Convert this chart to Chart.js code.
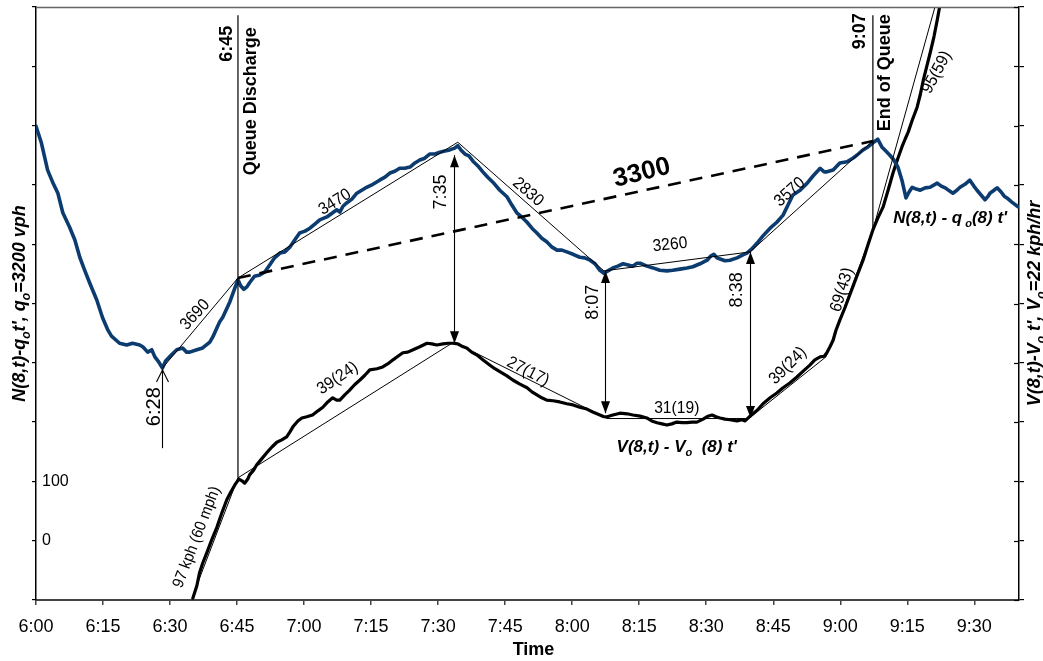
<!DOCTYPE html>
<html><head><meta charset="utf-8">
<script src="https://cdn.jsdelivr.net/npm/chart.js@4.4.1/dist/chart.umd.min.js"></script>
<style>html,body{margin:0;padding:0;background:#fff;}canvas{display:block;}</style>
</head><body>
<canvas id="c" width="1043" height="661"></canvas>
<script>
// ---- data (x = minutes after 6:00) ----
const timeTicks = [0,15,30,45,60,75,90,105,120,135,150,165,180,195,210];
const timeLabels = ['6:00','6:15','6:30','6:45','7:00','7:15','7:30','7:45','8:00','8:15','8:30','8:45','9:00','9:15','9:30'];
const yTickValues = [-100,0,100,200,300,400,500,600,700,800,900];
const yLabeledTicks = [0,100];

const blueT = [0,1.2,2.6,3.7,4.9,6.0,7.5,8.7,9.8,10.9,12.0,13.6,14.9,16.1,16.9,18.7,20.3,21.6,23.2,23.9,25.0,25.9,26.6,27.5,28.3,29.0,29.9,30.8,31.5,32.8,33.7,34.4,36.0,37.3,38.9,39.6,40.5,41.1,41.8,43.4,44.5,45.2,45.8,46.5,47.2,47.8,48.9,50.1,51.2,52.3,53.4,54.6,55.7,56.8,57.9,59.0,60.2,61.3,62.4,63.5,65.1,66.4,67.3,68.0,68.7,69.6,70.7,71.8,72.9,74.0,75.4,76.9,78.1,79.2,80.3,81.4,82.5,83.7,84.8,85.9,87.0,88.1,89.3,90.4,91.5,92.6,93.7,94.4,95.1,96.0,96.9,97.8,98.9,100.0,101.1,102.2,103.8,105.4,106.5,107.6,108.7,109.9,111.0,112.1,113.2,114.3,115.5,116.6,117.7,118.8,120.2,121.7,122.8,124.0,125.1,126.2,127.1,128.0,129.1,130.2,131.4,132.5,133.6,134.5,135.2,136.7,138.1,139.6,141.2,142.5,144.1,145.7,147.0,148.6,150.2,151.0,151.7,152.4,153.1,154.2,155.3,156.9,158.2,159.1,160.2,161.4,162.7,164.3,165.8,167.2,168.3,169.4,171.0,172.6,173.9,175.5,176.4,177.0,178.4,179.9,181.5,182.8,183.7,185.1,186.2,187.3,188.4,189.3,190.2,191.1,192.0,192.9,193.8,194.7,195.4,196.1,197.0,197.9,199.0,200.1,201.7,202.6,203.5,204.4,205.2,206.1,206.8,207.9,209.0,209.9,210.6,211.5,212.4,213.1,213.5,214.4,215.1,216.0,216.7,217.3,218.4,219.8];
const blueV = [699,671,625,605,586,553,529,507,478,456,435,406,376,355,345,333,330,333,330,327,318,322,310,301,291,303,310,317,322,325,318,318,322,325,335,344,359,369,377,403,426,440,430,424,428,435,446,448,453,465,477,485,487,495,507,519,522,527,534,541,546,553,558,554,564,570,576,586,591,596,601,608,613,620,623,628,628,630,637,642,645,652,652,655,657,659,662,666,659,652,649,640,632,622,613,605,591,580,566,553,546,537,527,519,510,504,495,490,490,487,483,478,477,473,467,456,451,455,460,463,467,465,463,468,468,463,460,456,455,456,458,460,462,467,473,480,483,477,475,472,473,477,482,485,492,502,514,527,537,549,566,583,591,603,615,628,622,622,625,637,639,645,650,659,664,671,677,664,657,650,642,630,608,578,588,596,593,591,595,596,603,598,595,590,586,591,596,601,608,598,591,583,575,581,586,591,595,588,581,578,571,563];

const blackT = [35.1,36.0,36.6,37.3,38.2,39.3,40.5,41.6,42.7,43.6,44.5,45.4,46.1,46.7,47.4,47.8,48.7,49.4,50.5,51.6,52.8,53.9,55.0,56.1,56.8,57.5,58.6,59.5,60.6,61.9,63.1,64.2,65.3,66.4,67.3,68.0,69.1,70.2,71.3,72.5,73.6,74.7,76.3,77.6,78.7,79.9,81.0,82.1,83.2,84.4,85.9,87.5,88.6,89.7,91.1,92.2,93.3,94.4,95.3,96.4,97.5,98.7,100.0,101.6,102.7,103.8,105.4,106.7,108.3,109.9,111.0,112.1,113.2,114.3,115.7,117.2,118.8,120.2,121.7,123.3,124.6,126.2,127.1,127.8,129.1,130.7,132.3,133.6,135.2,136.7,137.8,139.0,140.1,141.2,142.3,143.4,144.6,145.7,146.8,147.9,149.3,150.4,151.3,152.2,153.1,154.2,155.3,156.9,158.0,158.7,159.8,161.4,162.7,164.3,165.8,167.2,168.7,170.3,171.7,173.2,174.3,175.5,176.4,177.0,177.7,178.4,179.0,179.9,181.0,182.8,183.9,185.1,186.2,187.3,188.4,189.6,190.7,191.8,192.9,193.8,194.5,195.2,196.1,197.2,197.9,198.6,199.4,200.1,201.0,201.7,202.3];
const blackV = [-97,-76,-54,-38,-21,1,23,47,69,82,94,104,101,97,104,111,119,128,138,148,158,166,170,175,183,192,202,207,209,212,219,225,234,241,237,237,246,254,263,271,279,288,290,293,298,305,311,317,318,322,327,333,332,330,332,333,333,332,328,325,318,313,305,296,290,285,278,271,264,258,251,246,241,237,236,234,231,229,225,222,217,212,209,209,212,215,214,212,210,207,202,199,197,195,197,200,199,199,200,200,205,210,212,209,207,205,204,202,204,202,210,220,231,241,249,258,266,276,286,296,305,310,311,317,327,338,354,372,392,428,450,473,499,524,544,563,591,620,645,664,677,689,709,731,752,777,801,822,851,878,903];

// fitted straight segments
const flowFitT = [28.3,45.2,94.4,127.1,159.8,187.3];
const flowFitV = [291,443,672,455,487,674];
const speedFitT = [35.5,45.2,93.5,127.8,159.5,176.8,187.3,201.3];
const speedFitV = [-85,106,335,206,206,310,524,903];
const dash3300T = [45.2,187.3];
const dash3300V = [443,674];
const line645T = [45.2,45.2];   const line645V = [886,106];
const line907T = [187.3,187.3]; const line907V = [886,524];

// time arrows
const arrowT    = [28.3, 93.5, 127.3, 159.9];
const arrowFrom = [156, 650, 455, 487];
const arrowTo   = [288, 333, 215, 207];

// ---- annotations (text, t, value, angle°, kind) ----
const notes = [
  ['6:45', 42.7, 838, -90, 'head'],
  ['Queue Discharge', 48.2, 741, -90, 'head'],
  ['9:07', 184.4, 859, -90, 'head'],
  ['End of Queue', 190.0, 789, -90, 'head'],
  ['3690', 35.6, 381, -47, 'fit'],
  ['3470', 66.9, 571, -32, 'fit'],
  ['2830', 110.1, 588, 41, 'fit'],
  ['3300', 135.6, 620, -14, 'big'],
  ['3260', 141.9, 499, -6, 'fit'],
  ['3570', 168.7, 588, -42, 'fit'],
  ['97 kph (60 mph)', 36.0, 6, -69, 'fitS'],
  ['39(24)', 67.5, 274, -34, 'fit'],
  ['27(17)', 110.1, 285, 27, 'fit'],
  ['31(19)', 143.4, 224, 0, 'fit'],
  ['39(24)', 168.3, 295, -45, 'fit'],
  ['69(43)', 180.4, 423, -73, 'fit'],
  ['95(59)', 201.6, 790, -62, 'fit'],
  ['6:28', 26.6, 226, -90, 'timeL'],
  ['7:35', 90.6, 588, -90, 'time'],
  ['8:07', 124.6, 402, -90, 'time'],
  ['8:38', 156.9, 423, -90, 'time']
];
const FAM = '"Liberation Sans", Arial, sans-serif';
const noteStyle = {
  head: {font: 'bold 18px ' + FAM, sx: 1},
  fit:  {font: '17px ' + FAM, sx: 0.92},
  fitS: {font: '16px ' + FAM, sx: 0.92},
  big:  {font: 'bold 26px ' + FAM, sx: 1},
  time: {font: '18px ' + FAM, sx: 1},
  timeL:{font: '20px ' + FAM, sx: 1}
};

function rich(ctx, segs, cx, cy, ang, size, style) {
  ctx.save();
  ctx.translate(cx, cy); ctx.rotate(ang * Math.PI / 180);
  const fm = style + ' ' + size + 'px ' + FAM;
  const fs = style + ' ' + Math.round(size * 0.65) + 'px ' + FAM;
  let w = 0;
  const ws = segs.map(s => { ctx.font = s[1] ? fs : fm; const m = ctx.measureText(s[0]).width; w += m; return m; });
  let xx = -w / 2;
  ctx.textAlign = 'left'; ctx.textBaseline = 'alphabetic'; ctx.fillStyle = '#000';
  segs.forEach((s, i) => { ctx.font = s[1] ? fs : fm; ctx.fillText(s[0], xx, size * 0.36 + (s[1] ? size * 0.25 : 0)); xx += ws[i]; });
  ctx.restore();
}

const annot = {
  id: 'annot',
  afterDatasetsDraw(chart) {
    const {ctx, chartArea: a, scales} = chart;
    const X = t => scales.x.getPixelForValue(t), Y = v => scales.y.getPixelForValue(v);
    ctx.save();
    // top frame line
    ctx.strokeStyle = '#666'; ctx.lineWidth = 1.5;
    ctx.beginPath(); ctx.moveTo(a.left, a.top + 0.5); ctx.lineTo(a.right, a.top + 0.5); ctx.stroke();
    // inward part of right-axis ticks
    ctx.strokeStyle = '#000'; ctx.lineWidth = 1.2;
    scales.y2.ticks.forEach(tk => {
      const py = Math.round(scales.y2.getPixelForValue(tk.value)) + 0.5;
      ctx.beginPath(); ctx.moveTo(a.right - 5, py); ctx.lineTo(a.right, py); ctx.stroke();
    });
    // arrows
    ctx.strokeStyle = '#000'; ctx.fillStyle = '#000'; ctx.lineWidth = 1.1;
    arrowT.forEach((t, i) => {
      const px = Math.round(X(t)) + 0.5, y1 = Y(arrowFrom[i]), y2 = Y(arrowTo[i]);
      ctx.beginPath(); ctx.moveTo(px, y1); ctx.lineTo(px, y2); ctx.stroke();
      const dir = Math.sign(y2 - y1);
      if (i === 0) {
        ctx.beginPath(); ctx.moveTo(px - 6, y2 - dir * 12); ctx.lineTo(px, y2); ctx.lineTo(px + 6, y2 - dir * 12); ctx.stroke();
      } else {
        [[y2, dir], [y1, -dir]].forEach(([yy, d]) => {
          ctx.beginPath(); ctx.moveTo(px, yy); ctx.lineTo(px - 4.5, yy - d * 12); ctx.lineTo(px + 4.5, yy - d * 12); ctx.closePath(); ctx.fill();
        });
      }
    });
    // notes
    notes.forEach(n => {
      const st = noteStyle[n[4]];
      ctx.save();
      ctx.translate(X(n[1]), Y(n[2])); ctx.rotate(n[3] * Math.PI / 180); ctx.scale(st.sx, 1);
      ctx.font = st.font; ctx.fillStyle = '#000'; ctx.textAlign = 'center'; ctx.textBaseline = 'middle';
      ctx.fillText(n[0], 0, 0);
      ctx.restore();
    });
    // curve labels
    rich(ctx, [["N(8,t) - q", 0], [" o", 1], ["(8) t'", 0]], X(204.6), Y(546), 0, 17, 'italic bold');
    rich(ctx, [["V(8,t) - V", 0], ["o", 1], ["  (8) t'", 0]], X(143.4), Y(160), 0, 17, 'italic bold');
    // axis titles
    const cy = (a.top + a.bottom) / 2;
    rich(ctx, [["N(8,t)-q", 0], ["o", 1], ["t', q", 0], ["o", 1], ["=3200 vph", 0]], 19, cy, -90, 18, 'italic bold');
    rich(ctx, [["V(8,t)-V", 0], ["o", 1], [" t', V", 0], ["o", 1], ["=22 kph/hr", 0]], 1034, cy, -90, 18, 'italic bold');
    ctx.font = 'bold 18px ' + FAM; ctx.textAlign = 'center'; ctx.textBaseline = 'middle'; ctx.fillStyle = '#000';
    ctx.fillText('Time', (a.left + a.right) / 2 + 6, 650);
    ctx.restore();
  }
};

const xy = (T, V) => T.map((t, i) => ({x: t, y: V[i]}));
const thin = (T, V, extra) => Object.assign({data: xy(T, V), borderColor: '#000', borderWidth: 1, order: 0, yAxisID: 'y'}, extra || {});

new Chart(document.getElementById('c'), {
  type: 'line',
  data: {datasets: [
    thin(flowFitT, flowFitV),
    thin(speedFitT, speedFitV),
    thin(dash3300T, dash3300V, {borderWidth: 2.6, borderDash: [13, 9]}),
    thin(line645T, line645V, {borderWidth: 1.2}),
    thin(line907T, line907V, {borderWidth: 1.2}),
    {label: "N(8,t) - qo(8) t'", data: xy(blueT, blueV), borderColor: '#0b3b6f', borderWidth: 3.6, order: 2, yAxisID: 'y', borderJoinStyle: 'round', borderCapStyle: 'round'},
    {label: "V(8,t) - Vo(8) t'", data: xy(blackT, blackV), borderColor: '#000', borderWidth: 3.2, order: 2, yAxisID: 'y2', borderJoinStyle: 'round', borderCapStyle: 'round'}
  ]},
  options: {
    responsive: false, animation: false, events: [],
    layout: {padding: {top: 7, left: 0, right: 0, bottom: 0}},
    elements: {point: {radius: 0}, line: {tension: 0}},
    plugins: {legend: {display: false}, tooltip: {enabled: false}},
    scales: {
      x: {
        type: 'linear', min: 0, max: 220,
        afterBuildTicks: s => { s.ticks = timeTicks.map(v => ({value: v})); },
        afterFit: s => { s.height = 61; s.paddingLeft = 0; s.paddingRight = 0; },
        ticks: {callback: (v, i) => timeLabels[i], font: {family: FAM, size: 18}, color: '#000', padding: 11, maxRotation: 0, autoSkip: false},
        grid: {drawOnChartArea: false, tickLength: 5, color: '#444', lineWidth: 1.5},
        border: {color: '#444', width: 2}
      },
      y: {
        position: 'left', min: -100, max: 900,
        afterBuildTicks: s => { s.ticks = yTickValues.map(v => ({value: v})); },
        afterFit: s => { s.width = 36; s.paddingTop = 0; s.paddingBottom = 0; },
        ticks: {mirror: true, padding: 6, callback: v => yLabeledTicks.includes(v) ? String(v) : '', font: {family: FAM, size: 16}, color: '#000'},
        grid: {drawOnChartArea: false, tickLength: 4, color: '#000', lineWidth: 1.2},
        border: {color: '#000', width: 1.5}
      },
      y2: {
        position: 'right', min: -100, max: 900,
        afterBuildTicks: s => { s.ticks = yTickValues.map(v => ({value: v})); },
        afterFit: s => { s.width = 24; s.paddingTop = 0; s.paddingBottom = 0; },
        ticks: {callback: () => '', font: {family: FAM, size: 16}},
        grid: {drawOnChartArea: false, tickLength: 5, color: '#000', lineWidth: 1.2},
        border: {color: '#000', width: 1.5}
      }
    }
  },
  plugins: [annot]
});
</script>
</body></html>
